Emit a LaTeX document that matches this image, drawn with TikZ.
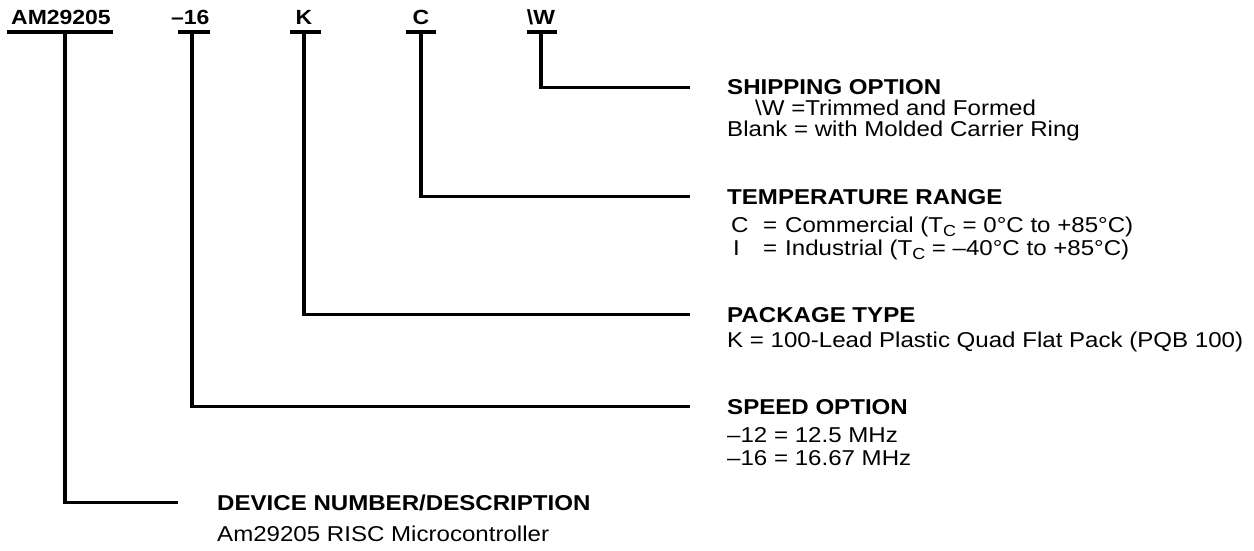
\documentclass[tikz,border=0pt]{standalone}
\usepackage{fontspec}
\setmainfont{Liberation Sans}[FakeStretch=1.12]
\newcommand\tsubc[1]{\raisebox{-4.5pt}{\fontsize{16}{16}\selectfont #1}}
\begin{document}
\begin{tikzpicture}[x=1pt,y=-1pt,
  ln/.style={line width=3.5pt},
  hd/.style={font=\fontsize{21.5}{26}\selectfont\bfseries, anchor=base west, inner sep=0pt, text height=15pt, text depth=0pt},
  bd/.style={font=\fontsize{21.5}{26}\selectfont, anchor=base west, inner sep=0pt},
  code/.style={font=\fontsize{20.5}{25}\selectfont\bfseries, anchor=base, inner sep=0pt}]
\useasboundingbox[fill=white] (0,0) rectangle (1254,551);

% part number fields
\node[code, anchor=base west] (am) at (11,25) {AM29205};
\node[code, anchor=base west] (sp) at (171,25) {–16};
\node[code] (pk) at (304,25) {K};
\node[code] (tr) at (421,25) {C};
\node[code] (sh) at (541,25) {\textbackslash W};

% underlines
\coordinate (amL) at (7,32);   \coordinate (amR) at (113,32);  \coordinate (amT) at (65,32);
\coordinate (spL) at (178,32); \coordinate (spR) at (210,32);  \coordinate (spT) at (192,32);
\coordinate (pkL) at (290,32); \coordinate (pkR) at (321,32);  \coordinate (pkT) at (304,32);
\coordinate (trL) at (406,32); \coordinate (trR) at (436,32);  \coordinate (trT) at (421,32);
\coordinate (shL) at (527,32); \coordinate (shR) at (557,32);  \coordinate (shT) at (541,32);
\foreach \n in {am,sp,pk,tr,sh} \draw[ln] (\n L) -- (\n R);

% headings
\node[hd] (shH) at (727,95)  {SHIPPING OPTION};
\node[hd] (trH) at (727,204) {TEMPERATURE RANGE};
\node[hd] (pkH) at (727,322) {PACKAGE TYPE};
\node[hd] (spH) at (727,414) {SPEED OPTION};
\node[hd] (amH) at (217,510) {DEVICE NUMBER/DESCRIPTION};

% connectors
\draw[ln] (shT) |- ([xshift=-37pt]shH.west);
\draw[ln] (trT) |- ([xshift=-37pt]trH.west);
\draw[ln] (pkT) |- ([xshift=-37pt]pkH.west);
\draw[ln] (spT) |- ([xshift=-37pt]spH.west);
\draw[ln] (amT) |- ([xshift=-39pt]amH.west);

% descriptions
\node[bd] (sh1) at (755,115) {\textbackslash W =Trimmed and Formed};
\node[bd] (sh2) at (727,136) {Blank = with Molded Carrier Ring};
\node[bd] (tr1) at (731,232) {\makebox[32pt][l]{C}\makebox[22pt][l]{=}Commercial (T\tsubc{C} = 0°C to +85°C)};
\node[bd] (tr2) at (733,255) {\makebox[30pt][l]{I}\makebox[22pt][l]{=}Industrial (T\tsubc{C} = –40°C to +85°C)};
\node[bd] (pk1) at (727,347) {K = 100-Lead Plastic Quad Flat Pack (PQB 100)};
\node[bd] (sp1) at (727,442) {–12 = 12.5 MHz};
\node[bd] (sp2) at (727,465) {–16 = 16.67 MHz};
\node[bd] (am1) at (217,541) {Am29205 RISC Microcontroller};
\end{tikzpicture}
\end{document}
